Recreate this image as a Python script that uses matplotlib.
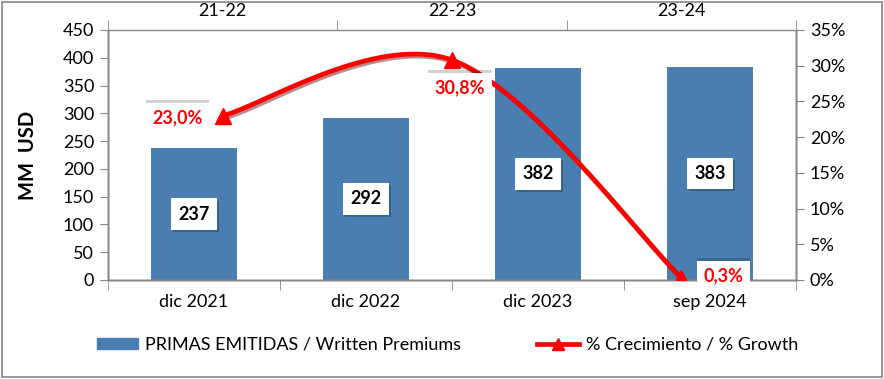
import numpy as np
import matplotlib
matplotlib.use("Agg")
import matplotlib.pyplot as plt
import matplotlib.patheffects as pe
from matplotlib.lines import Line2D
from matplotlib.patches import Patch, Rectangle

plt.rcParams['font.family'] = ['Lato', 'DejaVu Sans']

# data
periods = ["dic 2021", "dic 2022", "dic 2023", "sep 2024"]
premiums = [237, 292, 382, 383]
growth_periods = ["21-22", "22-23", "23-24"]
growth = [0.230, 0.308, 0.003]
growth_labels = ["23,0%", "30,8%", "0,3%"]

BLUE = "#4A7EB0"
RED = "#FF0000"
GRAY = "#868686"
FS = 13


def smooth_curve(xs, ys, n=60):
    # excel-like smoothed line (bezier through points)
    pts = np.column_stack([xs, ys]).astype(float)
    out = []
    for i in range(len(pts) - 1):
        p0 = pts[max(i - 1, 0)]
        p1 = pts[i]
        p2 = pts[i + 1]
        p3 = pts[min(i + 2, len(pts) - 1)]
        c1 = p1 + (p2 - p0) / 6.0
        c2 = p2 - (p3 - p1) / 6.0
        t = np.linspace(0, 1, n)[:, None]
        seg = ((1 - t) ** 3) * p1 + 3 * ((1 - t) ** 2) * t * c1 + 3 * (1 - t) * t ** 2 * c2 + t ** 3 * p2
        out.append(seg if i == 0 else seg[1:])
    out = np.vstack(out)
    return out[:, 0], out[:, 1]


fig = plt.figure(figsize=(8.84, 3.79), dpi=100)
ax = fig.add_axes([108 / 884, 1 - 280 / 379, 688 / 884, 250 / 379])
ax2 = ax.twinx()
ax3 = ax2.twiny()

x = np.arange(len(periods))
ax.bar(x, premiums, width=0.5, color=BLUE, zorder=2)
ax.set_xlim(-0.5, len(periods) - 0.5)
ax.set_ylim(0, 450)
ax.set_yticks(np.arange(0, 451, 50))
ax.set_xticks(x)
ax.set_xticklabels(periods)
ax.set_xticks(np.arange(-0.5, len(periods), 1), minor=True)
ax.tick_params(axis='x', which='major', length=0, pad=10, labelsize=FS)
ax.tick_params(axis='x', which='minor', length=7, color=GRAY, direction='out')
ax.tick_params(axis='y', length=6, color=GRAY, labelsize=FS, pad=4)
ax.set_ylabel("MM  USD", fontsize=14.5, fontweight='bold', labelpad=18)

ax2.set_ylim(0, 0.35)
ax2.set_yticks(np.arange(0, 0.351, 0.05))
ax2.set_yticklabels([f"{int(round(v * 100))}%" for v in np.arange(0, 0.351, 0.05)])
ax2.tick_params(axis='y', length=6, color=GRAY, labelsize=FS, pad=4)

gx = np.arange(len(growth_periods))
ax3.set_xlim(-0.5, len(growth_periods) - 0.5)
ax3.set_xticks(gx)
ax3.set_xticklabels(growth_periods)
ax3.set_xticks(np.arange(-0.5, len(growth_periods), 1), minor=True)
ax3.tick_params(axis='x', which='major', length=0, pad=8, labelsize=FS)
ax3.tick_params(axis='x', which='minor', length=7, color=GRAY, direction='out')

for a in (ax, ax2, ax3):
    for s in a.spines.values():
        s.set_color(GRAY)
        s.set_linewidth(1)
ax.spines['top'].set_visible(False)
ax2.spines['top'].set_visible(False)

# bar labels
for xi, v in zip(x, premiums):
    t = ax.text(xi, v / 2, str(v), ha='center', va='center', fontsize=FS,
                fontweight='bold', zorder=5,
                bbox=dict(boxstyle='square,pad=0.4', fc='white', ec='none'))
    t.get_bbox_patch().set_path_effects([pe.withSimplePatchShadow(offset=(1.5, -1.5), shadow_rgbFace='black', alpha=0.22)])

# growth line
sx, sy = smooth_curve(gx, growth)
ax3.plot(sx, sy, color=RED, lw=3.4, zorder=6,
         path_effects=[pe.SimpleLineShadow(offset=(1.5, -1.5), shadow_color='#600000', alpha=0.45), pe.Normal()])
ax3.plot(gx, growth, linestyle='none', marker='^', ms=11, color=RED, zorder=7)

offsets = [(-45, -2), (8, -28), (42, 2)]
for xi, v, lab, off in zip(gx, growth, growth_labels, offsets):
    t = ax3.annotate(lab, (xi, v), xytext=off, textcoords='offset pixels',
                     ha='center', va='center', fontsize=FS, fontweight='bold',
                     color=RED, zorder=8,
                     bbox=dict(boxstyle='square,pad=0.35', fc='white', ec='none'))
    t.get_bbox_patch().set_path_effects([pe.withSimplePatchShadow(offset=(0, 2), shadow_rgbFace='black', alpha=0.18)])

# legend
handles = [Patch(color=BLUE),
           Line2D([0], [0], color=RED, lw=3.4, marker='^', ms=9)]
fig.legend(handles, ["PRIMAS EMITIDAS / Written Premiums", "% Crecimiento / % Growth"],
           loc='center', bbox_to_anchor=(0.506, 0.09), ncol=2, frameon=False,
           fontsize=FS, handlelength=2.3, handleheight=0.6, handletextpad=0.4,
           columnspacing=4.2)

fig.add_artist(Rectangle((0.002, 0.004), 0.996, 0.992, transform=fig.transFigure,
                         fill=False, ec=GRAY, lw=1.2))

fig.savefig("out.png", dpi=100)
